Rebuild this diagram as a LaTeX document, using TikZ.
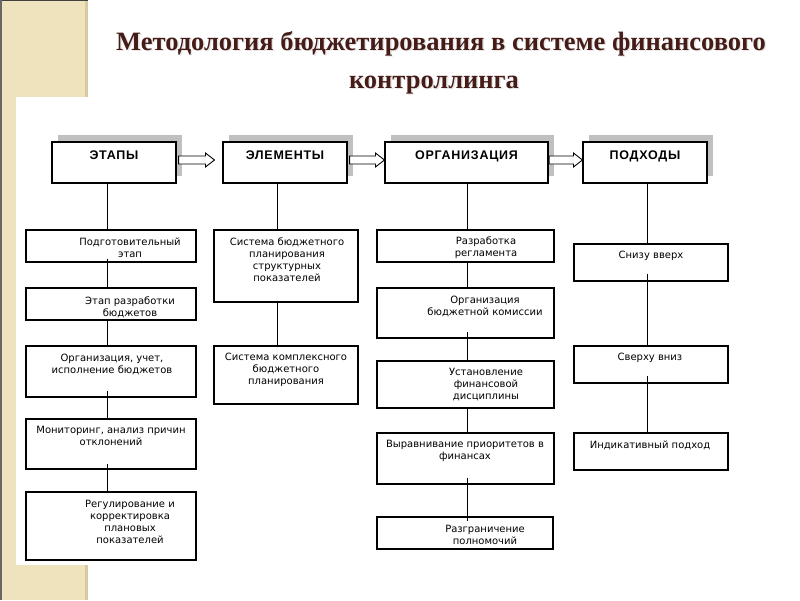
\documentclass[tikz,border=0pt]{standalone}
\usepackage{fontspec}
\setmainfont{Liberation Serif}
\newfontfamily\bodyfont{DejaVu Sans}
\newfontfamily\headfont[LetterSpace=6]{Liberation Sans}
\usetikzlibrary{calc}
\definecolor{beige}{HTML}{EEE3BC}
\definecolor{beigedark}{HTML}{D6CA9E}
\definecolor{titlecol}{HTML}{451C18}
\definecolor{shadowgray}{HTML}{C0C0C0}
\tikzset{
  box/.style={draw=black, line width=1.1pt, fill=white, inner sep=0pt},
  hbox/.style={draw=black, line width=1.1pt, fill=white, inner sep=0pt, minimum width=124pt, minimum height=41pt},
  shbox/.style={fill=shadowgray, inner sep=0pt, minimum height=41pt},
  txt/.style={font=\bodyfont\fontsize{10}{12}\selectfont, align=center, inner sep=0pt},
  htxt/.style={font=\headfont\bfseries\fontsize{12.5}{14}\selectfont, inner sep=0pt, anchor=base},
  conn/.style={draw=black, line width=0.9pt},
  barrow/.style={draw=black, line width=0.9pt, fill=white},
  ttl/.style={font=\bfseries\fontsize{26.5}{30}\selectfont, text=titlecol, inner sep=0pt, anchor=base},
  ttlsh/.style={font=\bfseries\fontsize{26.5}{30}\selectfont, text=black!9, inner sep=0pt, anchor=base}
}
\begin{document}
\begin{tikzpicture}[x=1pt,y=-1pt]
\useasboundingbox (0,0) rectangle (800,600);
\fill[white] (0,0) rectangle (800,600);
% beige decoration
\fill[beige] (0,0) rectangle (88,97);
\fill[beige] (0,0) rectangle (16,600);
\fill[beige] (0,565) rectangle (88,600);
\fill[beigedark] (85,0) rectangle (88,97);
\fill[beigedark] (85,565) rectangle (88,600);
\fill[black!75] (0,0) rectangle (88,1.2);
\fill[black!60] (0,0) rectangle (1.5,600);

% title
\node[ttlsh] (tt1s) at (442.5,51.5) {Методология бюджетирования в системе финансового};
\node[ttlsh] (tt2s) at (435.5,89.5) {контроллинга};
\node[ttl] (tt1) at (441,50) {Методология бюджетирования в системе финансового};
\node[ttl] (tt2) at (434,88) {контроллинга};

% header shadows
\node[shbox, minimum width=124pt] (s1) at (120,155.5) {};
\node[shbox, minimum width=124pt] (s2) at (291,155.5) {};
\node[shbox, minimum width=163pt] (s3) at (472.5,155.5) {};
\node[shbox, minimum width=124pt] (s4) at (651,155.5) {};

% column line positions
\coordinate (l1) at (107,0);
\coordinate (l2) at (277,0);
\coordinate (l3) at (467,0);
\coordinate (l4) at (647,0);

% header boxes
\node[hbox] (h1) at (114,162.5) {};
\node[hbox] (h2) at (285,162.5) {};
\node[hbox, minimum width=163pt] (h3) at (466.5,162.5) {};
\node[hbox] (h4) at (645,162.5) {};

% column 1 boxes
\node[box, minimum width=170pt, minimum height=32pt] (a1) at (111,246) {};
\node[box, minimum width=170pt, minimum height=32pt] (a2) at (111,304) {};
\node[box, minimum width=170pt, minimum height=51pt] (a3) at (111,371.5) {};
\node[box, minimum width=170pt, minimum height=50pt] (a4) at (111,444) {};
\node[box, minimum width=170pt, minimum height=68pt] (a5) at (111,526) {};
% column 2 boxes
\node[box, minimum width=144pt, minimum height=72pt] (b1) at (286,266) {};
\node[box, minimum width=144pt, minimum height=58pt] (b2) at (286,375) {};
% column 3 boxes
\node[box, minimum width=177pt, minimum height=32pt] (c1) at (465.5,246) {};
\node[box, minimum width=177pt, minimum height=50pt] (c2) at (465.5,313) {};
\node[box, minimum width=177pt, minimum height=47pt] (c3) at (465.5,384.5) {};
\node[box, minimum width=177pt, minimum height=51pt] (c4) at (465.5,458.5) {};
\node[box, minimum width=176pt, minimum height=32pt] (c5) at (465,533) {};
% column 4 boxes
\node[box, minimum width=154pt, minimum height=37pt] (d1) at (651,262.5) {};
\node[box, minimum width=154pt, minimum height=37pt] (d2) at (651,364.5) {};
\node[box, minimum width=154pt, minimum height=37pt] (d3) at (651,451.5) {};

% connectors
\draw[conn] (h1.south -| l1) -- (a1.north -| l1);
\draw[conn] ([yshift=4pt]a1.south -| l1) -- (a2.north -| l1);
\draw[conn] (a2.south -| l1) -- (a3.north -| l1);
\draw[conn] ([yshift=7pt]a3.south -| l1) -- (a4.north -| l1);
\draw[conn] ([yshift=6pt]a4.south -| l1) -- (a5.north -| l1);

\draw[conn] (h2.south -| l2) -- (b1.north -| l2);
\draw[conn] (b1.south -| l2) -- (b2.north -| l2);

\draw[conn] (h3.south -| l3) -- (c1.north -| l3);
\draw[conn] (c1.south -| l3) -- (c2.north -| l3);
\draw[conn] ([yshift=7pt]c2.south -| l3) -- (c3.north -| l3);
\draw[conn] (c3.south -| l3) -- (c4.north -| l3);
\draw[conn] ([yshift=7pt]c4.south -| l3) -- ([yshift=-5pt]c5.north -| l3);

\draw[conn] (h4.south -| l4) -- (d1.north -| l4);
\draw[conn] ([yshift=8pt]d1.south -| l4) -- (d2.north -| l4);
\draw[conn] ([yshift=8pt]d2.south -| l4) -- (d3.north -| l4);

% block arrows between header boxes
\path let \p1=($(h1.east)+(2,-2.5)$), \p2=($(h2.west)+(-8,-2.5)$) in
  [barrow] (\x1,\y1+4pt) -- (\x2-9pt,\y1+4pt) -- (\x2-9pt,\y1+7pt) -- (\x2,\y1)
  -- (\x2-9pt,\y1-7pt) -- (\x2-9pt,\y1-4pt) -- (\x1,\y1-4pt) -- cycle;
\path let \p1=($(h2.east)+(2,-2.5)$), \p2=($(h3.west)+(0,-2.5)$) in
  [barrow] (\x1,\y1+4pt) -- (\x2-9pt,\y1+4pt) -- (\x2-9pt,\y1+7pt) -- (\x2,\y1)
  -- (\x2-9pt,\y1-7pt) -- (\x2-9pt,\y1-4pt) -- (\x1,\y1-4pt) -- cycle;
\path let \p1=($(h3.east)+(0.5,-2.5)$), \p2=($(h4.west)+(0,-2.5)$) in
  [barrow] (\x1,\y1+4pt) -- (\x2-9pt,\y1+4pt) -- (\x2-9pt,\y1+7pt) -- (\x2,\y1)
  -- (\x2-9pt,\y1-7pt) -- (\x2-9pt,\y1-4pt) -- (\x1,\y1-4pt) -- cycle;

% header texts
\node[htxt] (ht1) at (114,159.8) {ЭТАПЫ};
\node[htxt] (ht2) at (285,159.8) {ЭЛЕМЕНТЫ};
\node[htxt] (ht3) at (466.5,159.8) {ОРГАНИЗАЦИЯ};
\node[htxt] (ht4) at (645,159.8) {ПОДХОДЫ};

% box texts
\node[txt] (ta1) at (130,248) {Подготовительный\\этап};
\node[txt] (ta2) at (130,307) {Этап разработки\\бюджетов};
\node[txt] (ta3) at (112,364) {Организация, учет,\\исполнение бюджетов};
\node[txt] (ta4) at (111,436) {Мониторинг, анализ причин\\отклонений};
\node[txt] (ta5) at (130,522) {Регулирование и\\корректировка\\плановых\\показателей};

\node[txt] (tb1) at (287,260) {Система бюджетного\\планирования\\структурных\\показателей};
\node[txt] (tb2) at (286,370) {Система комплексного\\бюджетного\\планирования};

\node[txt] (tc1) at (486,248) {Разработка\\регламента};
\node[txt] (tc2) at (485,306) {Организация\\бюджетной комиссии};
\node[txt] (tc3) at (486,385) {Установление\\финансовой\\дисциплины};
\node[txt] (tc4) at (465,451) {Выравнивание приоритетов в\\финансах};
\node[txt] (tc5) at (485,535) {Разграничение\\полномочий};

\node[txt] (td1) at (651,256) {Снизу вверх};
\node[txt] (td2) at (650,358) {Сверху вниз};
\node[txt] (td3) at (650,445) {Индикативный подход};
\end{tikzpicture}
\end{document}
